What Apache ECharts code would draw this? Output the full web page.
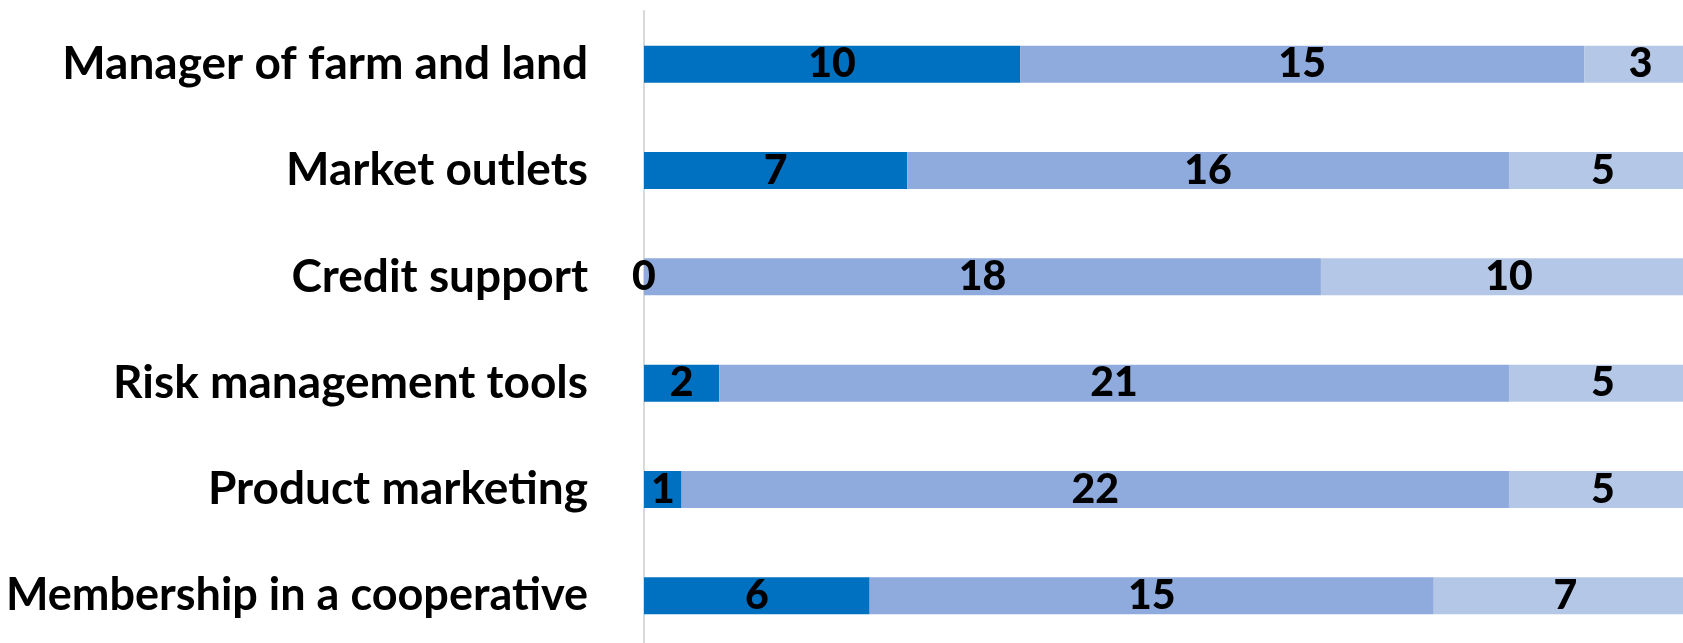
<!DOCTYPE html>
<html>
<head>
<meta charset="utf-8">
<script src="https://cdn.jsdelivr.net/npm/echarts@6/dist/echarts.min.js"></script>
<style>
  html, body { margin: 0; padding: 0; background: #fff; }
  #chart { width: 1683px; height: 643px; }
</style>
</head>
<body>
<div id="chart"></div>
<script>
const categories = [
  'Manager of farm and land',
  'Market outlets',
  'Credit support',
  'Risk management tools',
  'Product marketing',
  'Membership in a cooperative'
];
const seriesA = [10, 7, 0, 2, 1, 6];
const seriesB = [15, 16, 18, 21, 22, 15];
const seriesC = [3, 5, 10, 5, 5, 7];

const colors = ['#0070C0', '#8FAADC', '#B4C7E7'];

const chart = echarts.init(document.getElementById('chart'));

const labelStyle = {
  show: true,
  position: 'inside',
  color: '#000',
  fontFamily: 'Lato',
  fontWeight: 900,
  fontSize: 41
};

function makeSeries(name, data, color) {
  return {
    name: name,
    type: 'bar',
    stack: 'total',
    data: data,
    barWidth: 37,
    itemStyle: { color: color },
    label: labelStyle,
    silent: true
  };
}

// the longest label is a touch smaller so it stays inside the page
const yData = categories.map(function (c) {
  return c.length > 25 ? { value: c, textStyle: { fontSize: 45 } } : c;
});

chart.setOption({
  animation: false,
  grid: {
    left: 644, right: -14, top: 11, bottom: -6,
    containLabel: false,
    outerBoundsMode: 'none'
  },
  xAxis: {
    type: 'value',
    min: 0,
    max: 28,
    show: false
  },
  yAxis: {
    type: 'category',
    data: yData,
    inverse: true,
    axisLine: { show: true, lineStyle: { color: '#D9D9D9', width: 2 } },
    axisTick: { show: false },
    axisLabel: {
      margin: 56,
      color: '#000',
      fontFamily: 'Lato',
      fontWeight: 'bold',
      fontSize: 46
    }
  },
  series: [
    makeSeries('Series 1', seriesA, colors[0]),
    makeSeries('Series 2', seriesB, colors[1]),
    makeSeries('Series 3', seriesC, colors[2])
  ]
});

window.addEventListener('resize', chart.resize);
</script>
</body>
</html>
